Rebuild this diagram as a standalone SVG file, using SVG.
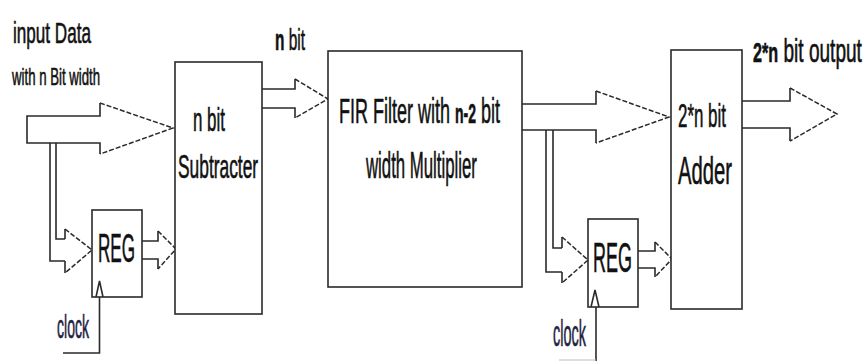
<svg xmlns="http://www.w3.org/2000/svg" width="864" height="361" viewBox="0 0 864 361">
<style>
  .box{fill:#fff;stroke:#2a2a2a;stroke-width:1.6}
  .shaft{fill:none;stroke:#2a2a2a;stroke-width:1.6}
  .head{fill:none;stroke:#2a2a2a;stroke-width:1.5;stroke-dasharray:5 2}
  .line{fill:none;stroke:#2a2a2a;stroke-width:1.6}
  .t{font-family:"Liberation Sans",Arial,sans-serif;fill:#111;stroke:#111;stroke-width:0.6}
  .b{font-weight:bold}
  .clk{fill:#1e2440;stroke:#1e2440}
</style>
<rect width="864" height="361" fill="#fff"/>

<g id="connectors">
  <path class="shaft" d="M100,103 V116 H27 V143 H100 V154"/>
  <path class="head" d="M100,103 L173,128 L100,154"/>
  <path class="line" d="M50,143 V261 H65"/>
  <path class="line" d="M56,143 V239 H65"/>
  <path class="shaft" d="M65,239 V229 M65,261 V273"/>
  <path class="head" d="M65,229 L92,250 L65,273"/>
  <path class="shaft" d="M142,241 H158 V231 M142,259 H158 V269"/>
  <path class="head" d="M158,231 L176,249 L158,269"/>
  <path class="shaft" d="M262,89 H295 V79 M262,108 H295 V118"/>
  <path class="head" d="M295,79 L328,99 L295,118"/>
  <path class="shaft" d="M522,104 H596 V91 M522,130 H596 V143"/>
  <path class="head" d="M596,91 L669,117 L596,143"/>
  <path class="line" d="M546,130 V272 H562"/>
  <path class="line" d="M553,130 V248 H562"/>
  <path class="shaft" d="M562,248 V237 M562,272 V283"/>
  <path class="head" d="M562,237 L588,260 L562,283"/>
  <path class="shaft" d="M638,251 H655 V242 M638,268 H655 V277"/>
  <path class="head" d="M655,242 L672,259 L655,277"/>
  <path class="shaft" d="M742,101 H790 V88 M742,128 H790 V141"/>
  <path class="head" d="M790,88 L837,114 L790,141"/>
  <path class="line" d="M63,353 H99.5 V297"/>
  <path class="line" d="M596,361 V307"/>
  <path d="M559,360 H596" fill="none" stroke="#bbb" stroke-width="1"/>
</g>

<g id="label-input">
  <text class="t" transform="translate(13,43) scale(0.59,1)" font-size="29">input Data</text>
  <text class="t" transform="translate(12,85) scale(0.574,1)" font-size="23">with n Bit width</text>
</g>

<g id="label-nbit">
  <text class="t" transform="translate(275,50) scale(0.514,1)" font-size="30"><tspan class="b">n</tspan> bit</text>
</g>

<g id="label-output">
  <text class="t" transform="translate(753,62) scale(0.578,1)" font-size="33"><tspan class="b" font-size="28">2*n</tspan> bit output</text>
</g>

<g id="subtracter">
  <rect class="box" x="175" y="62" width="87" height="252"/>
  <text class="t" transform="translate(193,131) scale(0.513,1)" font-size="33">n bit</text>
  <text class="t" transform="translate(178,178) scale(0.526,1)" font-size="33">Subtracter</text>
</g>

<g id="fir">
  <rect class="box" x="328" y="51" width="194" height="236"/>
  <text class="t" transform="translate(339,123) scale(0.5,1)" font-size="36">FIR Filter with <tspan class="b" font-size="28">n-2</tspan> bit</text>
  <text class="t" transform="translate(366,178) scale(0.466,1)" font-size="36">width Multiplier</text>
</g>

<g id="adder">
  <rect class="box" x="671" y="50" width="71" height="259"/>
  <text class="t" transform="translate(678,127) scale(0.498,1)" font-size="34">2*n bit</text>
  <text class="t" transform="translate(678,184) scale(0.533,1)" font-size="38">Adder</text>
</g>

<g id="reg1">
  <rect class="box" x="92" y="210" width="50" height="87"/>
  <text class="t" transform="translate(98,262) scale(0.427,1)" font-size="40">REG</text>
  <path class="line" d="M96,297 L99.5,281 L103,297" stroke-width="1.2"/>
</g>

<g id="reg2">
  <rect class="box" x="588" y="219" width="50" height="88"/>
  <text class="t" transform="translate(593,272) scale(0.429,1)" font-size="42">REG</text>
  <path class="line" d="M591,307 L595,290 L599,307" stroke-width="1.2"/>
</g>

<g id="clock1">
  <text class="t clk" transform="translate(57,338) scale(0.413,1)" font-size="34">clock</text>
</g>

<g id="clock2">
  <text class="t clk" transform="translate(553,346) scale(0.402,1)" font-size="36">clock</text>
</g>
</svg>
